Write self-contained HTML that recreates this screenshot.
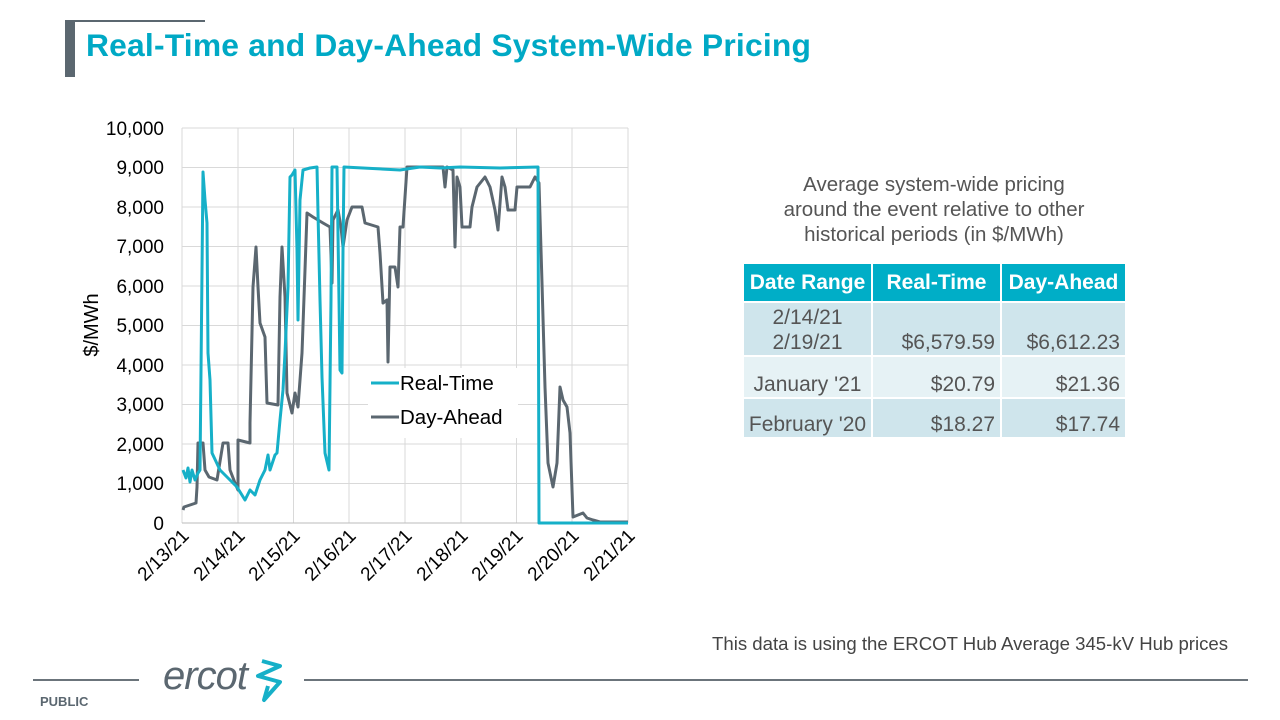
<!DOCTYPE html>
<html><head><meta charset="utf-8"><style>
body{margin:0;width:1280px;height:720px;background:#fff;position:relative;font-family:"Liberation Sans",sans-serif;overflow:hidden}
.abs{position:absolute}
table{border-collapse:separate;border-spacing:2px;font-size:21px;color:#555}
td,th{padding:0 5px;white-space:nowrap}
th{background:#00aec7;color:#fff;height:37px;font-weight:bold}
</style></head><body>
<div class="abs" style="left:65px;top:20px;width:10px;height:57px;background:#5b6770"></div>
<div class="abs" style="left:75px;top:20px;width:130px;height:2px;background:#5b6770"></div>
<div class="abs" style="left:86px;top:27px;font-size:31.8px;font-weight:bold;color:#00a9c5;letter-spacing:0.2px">Real-Time and Day-Ahead System-Wide Pricing</div>

<svg class="abs" style="left:0;top:0" width="660" height="620">
<g stroke="#d9d9d9" stroke-width="1">
<line x1="182" y1="128" x2="628" y2="128"/><line x1="182" y1="167.5" x2="628" y2="167.5"/><line x1="182" y1="207" x2="628" y2="207"/><line x1="182" y1="246.5" x2="628" y2="246.5"/><line x1="182" y1="286" x2="628" y2="286"/><line x1="182" y1="325.5" x2="628" y2="325.5"/><line x1="182" y1="365" x2="628" y2="365"/><line x1="182" y1="404.5" x2="628" y2="404.5"/><line x1="182" y1="444" x2="628" y2="444"/><line x1="182" y1="483.5" x2="628" y2="483.5"/>
<line x1="182" y1="128" x2="182" y2="523"/><line x1="238" y1="128" x2="238" y2="523"/><line x1="293.5" y1="128" x2="293.5" y2="523"/><line x1="349" y1="128" x2="349" y2="523"/><line x1="405" y1="128" x2="405" y2="523"/><line x1="461" y1="128" x2="461" y2="523"/><line x1="516.5" y1="128" x2="516.5" y2="523"/><line x1="572" y1="128" x2="572" y2="523"/><line x1="628" y1="128" x2="628" y2="523"/>
</g>
<line x1="182" y1="523" x2="628" y2="523" stroke="#bbb"/>
<g font-size="19" fill="#000" text-anchor="end">
<text x="164" y="135">10,000</text><text x="164" y="174">9,000</text><text x="164" y="214">8,000</text><text x="164" y="253">7,000</text><text x="164" y="293">6,000</text><text x="164" y="332">5,000</text><text x="164" y="372">4,000</text><text x="164" y="411">3,000</text><text x="164" y="451">2,000</text><text x="164" y="490">1,000</text><text x="164" y="530">0</text>
</g>
<text transform="translate(98,325) rotate(-90)" font-size="20" text-anchor="middle">$/MWh</text>
<g font-size="19" text-anchor="end">
<text transform="translate(190,537) rotate(-45)">2/13/21</text>
<text transform="translate(246,537) rotate(-45)">2/14/21</text>
<text transform="translate(301,537) rotate(-45)">2/15/21</text>
<text transform="translate(357,537) rotate(-45)">2/16/21</text>
<text transform="translate(413,537) rotate(-45)">2/17/21</text>
<text transform="translate(469,537) rotate(-45)">2/18/21</text>
<text transform="translate(524,537) rotate(-45)">2/19/21</text>
<text transform="translate(580,537) rotate(-45)">2/20/21</text>
<text transform="translate(636,537) rotate(-45)">2/21/21</text>
</g>
<polyline fill="none" stroke="#5b6770" stroke-width="3" stroke-linejoin="round" points="183,510 184,507 196,503 197,487 198,443 203,443 205,470 209,477 217,480 223,443 228,443 230,470 235,483 238,490 238,440 250,443 250,423 253,287 256,247 258,287 260,323 265,337 267,403 278,405 280,297 282,247 285,297 287,393 292,413 295,393 298,407 302,353 305,270 307,213 313,217 323,223 330,227 332,283 333,220 338,210 341,227 343,247 347,220 352,207 362,207 365,223 378,227 380,253 383,303 387,300 388,362 390,267 395,267 398,287 400,227 403,227 407,167 443,167 445,187 447,167 453,170 455,247 457,177 460,187 462,227 470,227 472,207 477,187 485,177 490,187 495,210 498,230 502,177 505,187 508,210 515,210 517,187 530,187 535,177 539,183 542,283 545,387 548,463 553,487 557,463 560,387 563,400 567,407 570,433 573,517 583,513 587,518 593,520 600,522 628,522"/>
<polyline fill="none" stroke="#16b0c8" stroke-width="3" stroke-linejoin="round" points="183,470 186,478 188,468 190,482 192,470 195,480 198,473 200,470 203,172 205,200 207,223 208,353 210,380 212,453 220,470 230,480 237,487 245,500 250,490 255,495 260,480 265,470 268,455 270,470 275,455 277,453 280,420 283,390 285,353 288,287 290,177 292,175 295,170 297,250 298,320 300,200 303,170 310,168 317,167 318,213 320,300 322,377 325,453 329,470 331,300 332,167 337,167 339,300 340,370 342,373 343,250 344,167 400,170 420,167 440,168 460,167 500,168 538,167 539,523 628,523"/>
<rect x="368" y="368" width="150" height="70" fill="#fff"/>
<line x1="371" y1="383" x2="399" y2="383" stroke="#16b0c8" stroke-width="3"/>
<line x1="371" y1="417" x2="399" y2="417" stroke="#5b6770" stroke-width="3"/>
<text x="400" y="390" font-size="20.5">Real-Time</text>
<text x="400" y="424" font-size="20.5">Day-Ahead</text>
</svg>

<div class="abs" style="left:734px;top:172px;width:400px;text-align:center;font-size:20.5px;color:#555;line-height:25px">Average system-wide pricing<br>around the event relative to other<br>historical periods (in $/MWh)</div>

<table class="abs" style="left:742px;top:262px">
<tr><th style="width:117px">Date Range</th><th style="width:117px">Real-Time</th><th style="width:113px">Day-Ahead</th></tr>
<tr style="background:#cfe5ec;height:52px"><td style="text-align:center;vertical-align:bottom;line-height:25px;padding-bottom:0">2/14/21<br>2/19/21</td><td style="text-align:right;vertical-align:bottom">$6,579.59</td><td style="text-align:right;vertical-align:bottom">$6,612.23</td></tr>
<tr style="background:#e6f2f5;height:40px"><td style="text-align:center;vertical-align:bottom">January '21</td><td style="text-align:right;vertical-align:bottom">$20.79</td><td style="text-align:right;vertical-align:bottom">$21.36</td></tr>
<tr style="background:#cfe5ec;height:38px"><td style="text-align:center;vertical-align:bottom;padding:0 1px">February '20</td><td style="text-align:right;vertical-align:bottom">$18.27</td><td style="text-align:right;vertical-align:bottom">$17.74</td></tr>
</table>

<div class="abs" style="left:712px;top:633px;font-size:18.6px;color:#444">This data is using the ERCOT Hub Average 345-kV Hub prices</div>
<div class="abs" style="left:33px;top:679px;width:106px;height:2px;background:#6b747b"></div>
<div class="abs" style="left:304px;top:679px;width:944px;height:2px;background:#6b747b"></div>
<div class="abs" style="left:40px;top:694px;font-size:13px;font-weight:bold;color:#5b6770">PUBLIC</div>
<div class="abs" style="left:163px;top:654px;font-size:40px;font-style:italic;color:#5b6770;letter-spacing:-1px">ercot</div>
<svg class="abs" style="left:250px;top:658px" width="36" height="46"><path d="M12 3 L30 8 L8 18 L30 24 L14 42 L18 28" fill="none" stroke="#16b0c8" stroke-width="4" stroke-linejoin="round"/></svg>
</body></html>
